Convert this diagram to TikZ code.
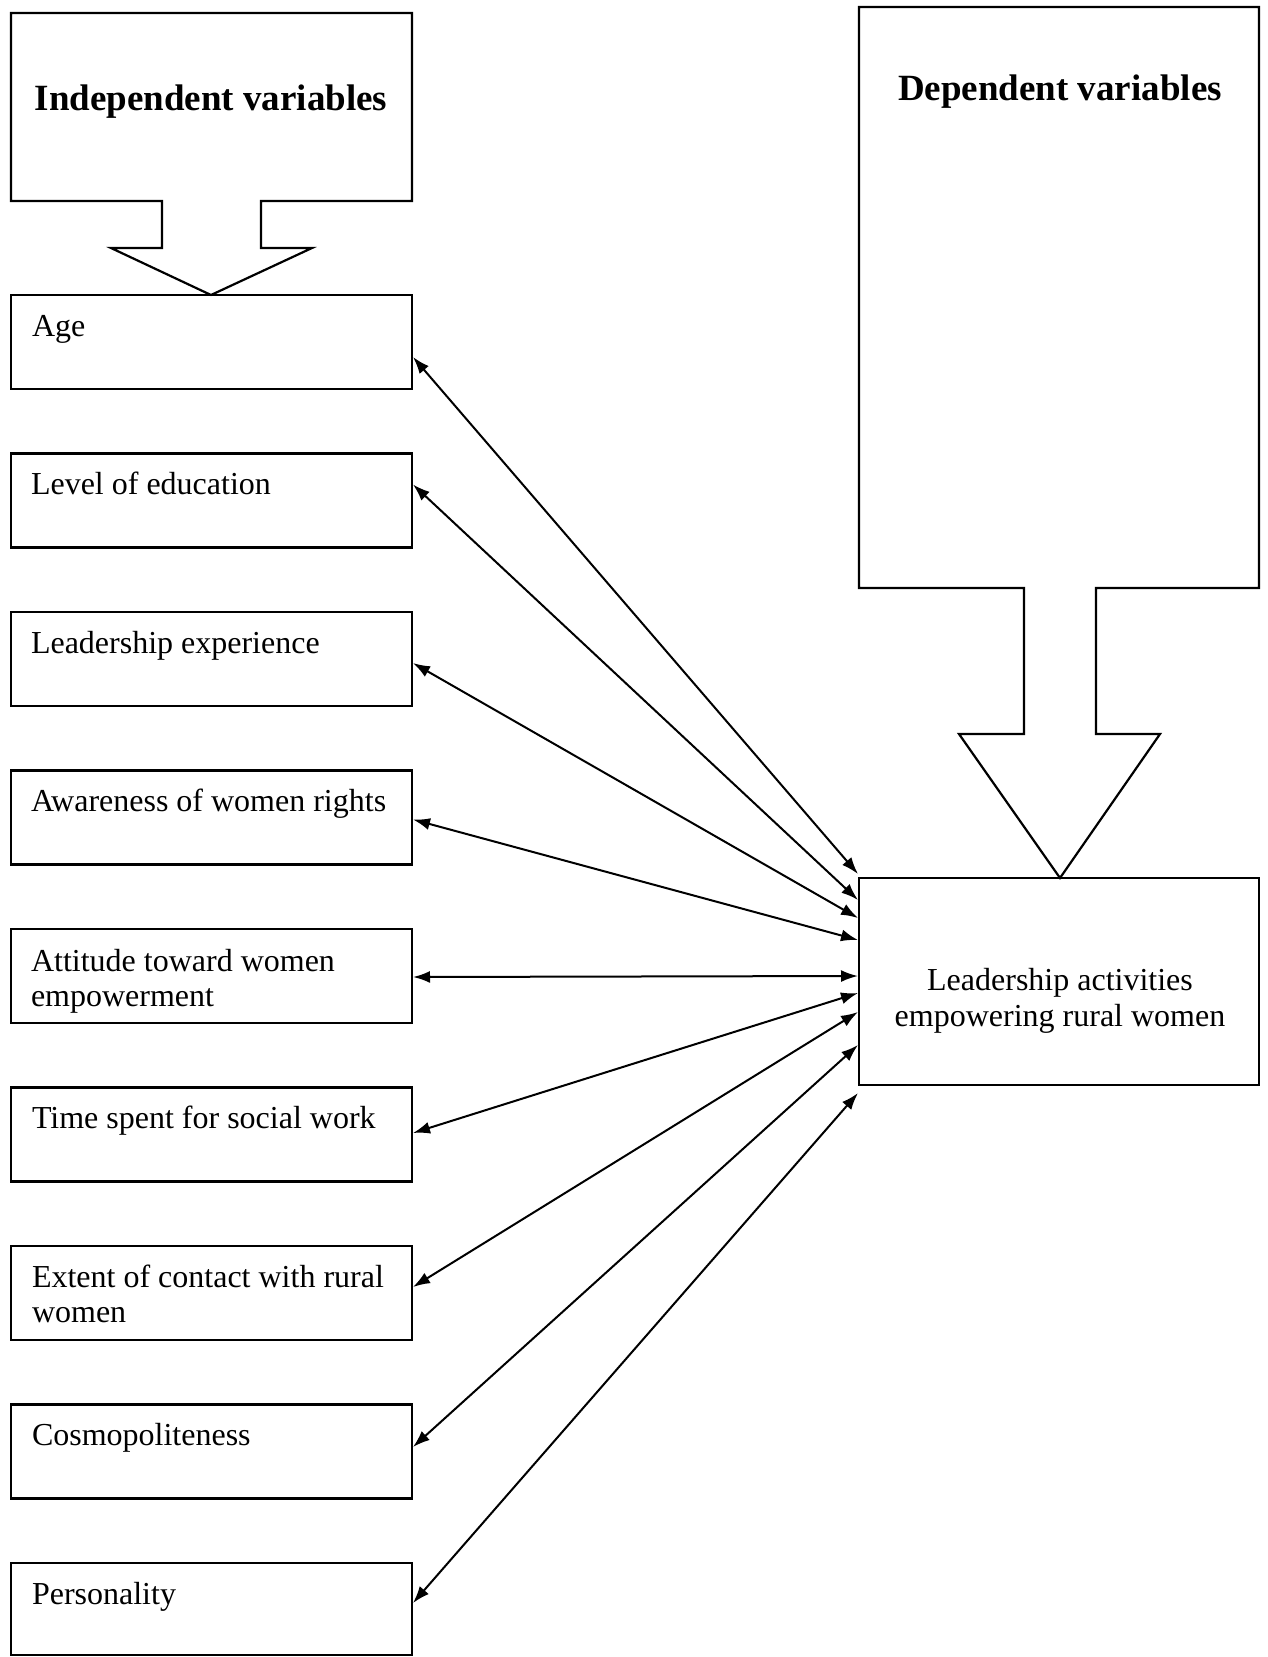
\documentclass[tikz,border=0pt]{standalone}
\usepackage{fontspec}
\setmainfont{Liberation Serif}
\usetikzlibrary{arrows.meta,calc}
\begin{document}
\begin{tikzpicture}[x=1pt,y=-1pt,
  every node/.style={inner sep=0pt, outer sep=0pt},
  varbox/.style={draw, line width=2.2pt, minimum width=401pt, minimum height=94pt, anchor=north west},
  lbl/.style={anchor=base west, align=left, font=\fontsize{32}{35}\selectfont},
  ttl/.style={anchor=base, font=\fontsize{37}{42}\selectfont\bfseries},
  blockarrow/.style={draw, line width=2.2pt, line join=miter},
  link/.style={line width=2pt, {Latex[length=17pt,width=12pt]}-{Latex[length=17pt,width=12pt]}}
]
\useasboundingbox (0,0) rectangle (1268,1657);

% independent block arrow
\draw[blockarrow] (11,13) -- (412,13) -- (412,201) -- (261,201) -- (261,248) -- (312,248)
  -- (211,295) -- (111,248) -- (162,248) -- (162,201) -- (11,201) -- cycle;
\node[ttl] (indt) at (211,110) {Independent variables};

% dependent block arrow
\draw[blockarrow] (859,7) -- (1259,7) -- (1259,588) -- (1096,588) -- (1096,734) -- (1160,734)
  -- (1060,878) -- (959,734) -- (1024,734) -- (1024,588) -- (859,588) -- cycle;
\node[ttl] (dept) at (1060,100) {Dependent variables};

% dependent box
\node[draw, line width=2.2pt, minimum width=400pt, minimum height=207pt, anchor=north west] (la) at (859,878) {};
\node[anchor=base, align=center, font=\fontsize{32}{36}\selectfont] (lat) at (1060,1026)
  {Leadership activities\\empowering rural women};

% independent boxes
\node[varbox] (b1) at (11,295) {};
\node[varbox] (b2) at (11,453.5) {};
\node[varbox] (b3) at (11,612) {};
\node[varbox] (b4) at (11,770.5) {};
\node[varbox] (b5) at (11,929) {};
\node[varbox] (b6) at (11,1087.5) {};
\node[varbox] (b7) at (11,1246) {};
\node[varbox] (b8) at (11,1404.5) {};
\node[varbox, minimum height=92pt] (b9) at (11,1563) {};

\node[lbl] (t1) at (32,336) {Age};
\node[lbl] (t2) at (31,494.5) {Level of education};
\node[lbl] (t3) at (31,653) {Leadership experience};
\node[lbl] (t4) at (31,811.5) {Awareness of women rights};
\node[lbl] (t5) at (31,1006) {Attitude toward women\\empowerment};
\node[lbl] (t6) at (32,1128.5) {Time spent for social work};
\node[lbl] (t7) at (32,1322) {Extent of contact with rural\\women};
\node[lbl] (t8) at (32,1445.5) {Cosmopoliteness};
\node[lbl] (t9) at (32,1604) {Personality};

% connectors
\draw[link] ($(b1.north east)+(1,62)$)   -- ($(la.north west)+(-1,-4)$);
\draw[link] ($(b2.north east)+(1,31)$)   -- ($(la.north west)+(-1,22)$);
\draw[link] ($(b3.north east)+(1,51)$)   -- ($(la.north west)+(-1,40)$);
\draw[link] ($(b4.north east)+(1,49)$)   -- ($(la.north west)+(-1,62)$);
\draw[link] ($(b5.north east)+(1,48)$)   -- ($(la.north west)+(-1,98)$);
\draw[link] ($(b6.north east)+(1,45.5)$) -- ($(la.north west)+(-1,115)$);
\draw[link] ($(b7.north east)+(1,41)$)   -- ($(la.north west)+(-1,134)$);
\draw[link] ($(b8.north east)+(1,42.5)$) -- ($(la.north west)+(-1,167)$);
\draw[link] ($(b9.north east)+(1,40)$)   -- ($(la.north west)+(-1,215)$);
\end{tikzpicture}
\end{document}
